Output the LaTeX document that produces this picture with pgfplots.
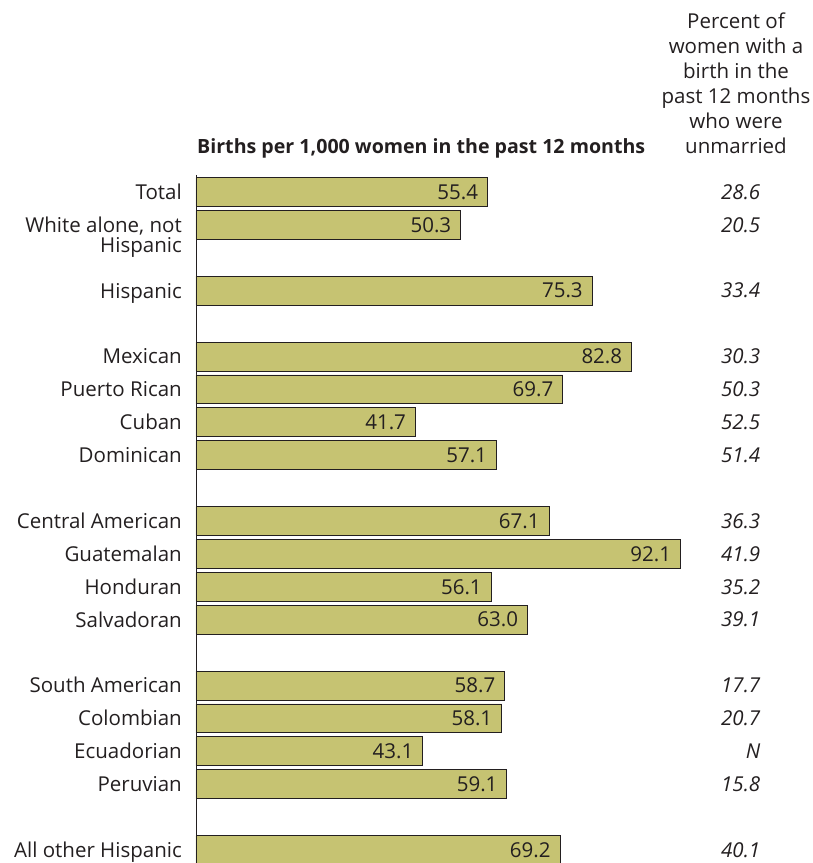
\documentclass[border=0pt]{standalone}
\usepackage{fontspec}
\setmainfont{Open Sans}
\usepackage{pgfplots}
\usepackage{pgfplotstable}
\pgfplotsset{compat=1.18}
\definecolor{barfill}{RGB}{198,195,114}
\definecolor{txt}{RGB}{35,31,32}
\newcommand\lab{\fontsize{20.5}{24}\selectfont}
\pgfplotstableread{
pos val right
0 55.4 28.6
1 50.3 20.5
3 75.3 33.4
5 82.8 30.3
6 69.7 50.3
7 41.7 52.5
8 57.1 51.4
10 67.1 36.3
11 92.1 41.9
12 56.1 35.2
13 63.0 39.1
15 58.7 17.7
16 58.1 20.7
17 43.1 N
18 59.1 15.8
20 69.2 40.1
}\births
\begin{document}
\begin{tikzpicture}[every node/.style={text=txt}]
\begin{axis}[
  x=5.26pt, y=32.9pt,
  xmin=0, xmax=100,
  ymin=-0.52, ymax=20.4,
  y dir=reverse,
  axis x line=none,
  axis y line=left,
  axis line style={-, draw=txt, line width=0.8pt},
  ytick={0,1,3,5,6,7,8,10,11,12,13,15,16,17,18,20},
  yticklabels={Total, {White alone, not}, Hispanic, Mexican, Puerto Rican, Cuban, Dominican, Central American, Guatemalan, Honduran, Salvadoran, South American, Colombian, Ecuadorian, Peruvian, All other Hispanic},
  major tick length=0pt,
  yticklabel style={font=\lab, inner sep=0pt, anchor=base east, xshift=-14pt, yshift=-7.3pt, text=txt},
  clip=false,
]
\addplot[xbar, bar width=0.88, bar shift=0pt, fill=barfill, draw=txt, line width=0.8pt,
  nodes near coords, point meta=explicit symbolic,
  nodes near coords align={anchor=east},
  every node near coord/.append style={font=\lab, inner sep=0pt, xshift=-9pt, text=txt}]
  table[x=val, y=pos, meta=val] {\births};
\addplot[only marks, mark=none,
  nodes near coords, point meta=explicit symbolic,
  nodes near coords align={anchor=east},
  every node near coord/.append style={font=\lab\itshape, inner sep=0pt, text=txt}]
  table[x expr=107.3, y=pos, meta=right] {\births};
\coordinate (o) at (axis cs:0,0);
\end{axis}
\node[anchor=base east, font=\lab, inner sep=0pt] at ([shift={(-14pt,-60.3pt)}]o) {Hispanic};
\node[anchor=base west, font=\fontsize{19.6}{22}\selectfont\bfseries, inner sep=0pt] at ([shift={(1pt,38pt)}]o) {Births per 1,000 women in the past 12 months};
\node[anchor=south, align=center, font=\fontsize{20.5}{25}\selectfont, inner sep=0pt] at ([shift={(540pt,38pt)}]o) {Percent of\\women with a\\birth in the\\past 12 months\\who were\\unmarried};
\pgfresetboundingbox
\path[use as bounding box] ([shift={(-196pt,192pt)}]o) rectangle ([shift={(617pt,-671pt)}]o);
\end{tikzpicture}
\end{document}
